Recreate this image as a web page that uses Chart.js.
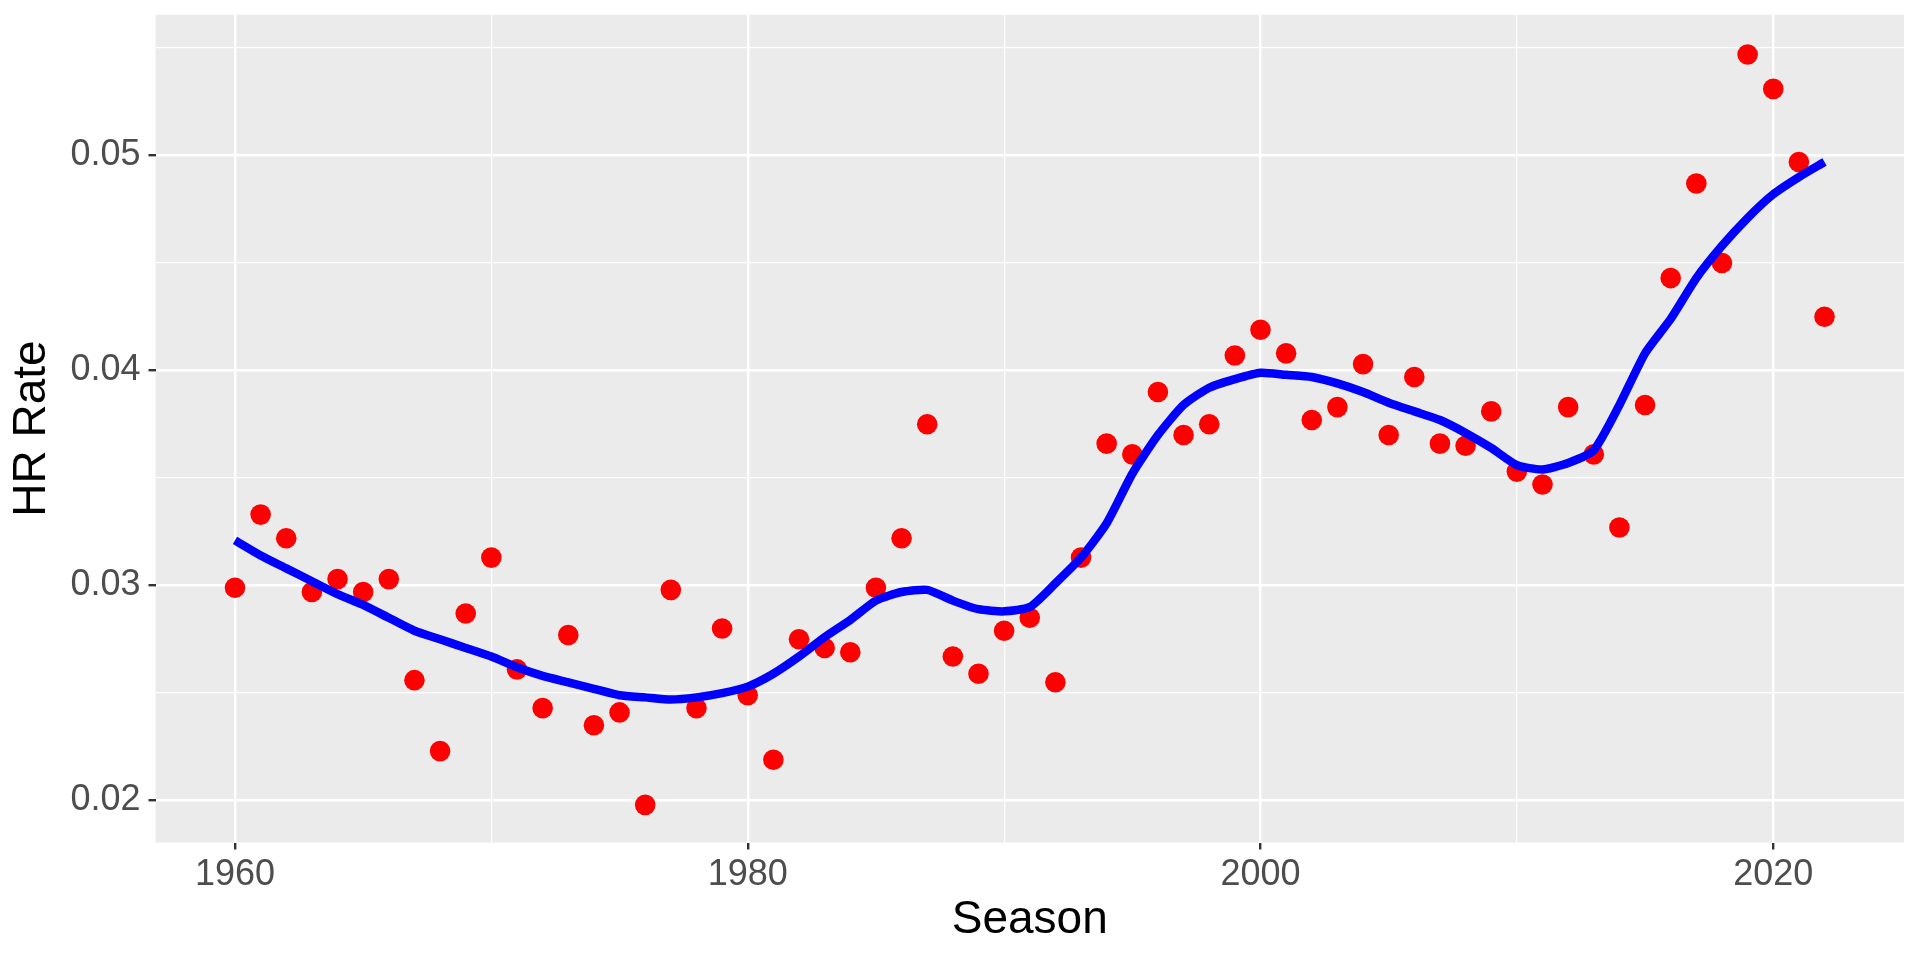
<!DOCTYPE html>
<html>
<head>
<meta charset="utf-8">
<script src="https://cdn.jsdelivr.net/npm/chart.js@4"></script>
<style>
  body { margin: 0; background: #fff; }
  #wrap { width: 1920px; height: 960px; }
</style>
</head>
<body>
<div id="wrap"><canvas id="myChart"></canvas></div>
<script>
// seasons and observed HR rate (red dots)
const seasons = [1960, 1961, 1962, 1963, 1964, 1965, 1966, 1967, 1968, 1969,
                 1970, 1971, 1972, 1973, 1974, 1975, 1976, 1977, 1978, 1979,
                 1980, 1981, 1982, 1983, 1984, 1985, 1986, 1987, 1988, 1989,
                 1990, 1991, 1992, 1993, 1994, 1995, 1996, 1997, 1998, 1999,
                 2000, 2001, 2002, 2003, 2004, 2005, 2006, 2007, 2008, 2009,
                 2010, 2011, 2012, 2013, 2014, 2015, 2016, 2017, 2018, 2019,
                 2020, 2021, 2022];
const hrRate = [0.0299, 0.0333, 0.0322, 0.0297, 0.0303, 0.0297, 0.0303, 0.0256, 0.0223, 0.0287,
                0.0313, 0.0261, 0.0243, 0.0277, 0.0235, 0.0241, 0.0198, 0.0298, 0.0243, 0.0280,
                0.0249, 0.0219, 0.0275, 0.0271, 0.0269, 0.0299, 0.0322, 0.0375, 0.0267, 0.0259,
                0.0279, 0.0285, 0.0255, 0.0313, 0.0366, 0.0361, 0.0390, 0.0370, 0.0375, 0.0407,
                0.0419, 0.0408, 0.0377, 0.0383, 0.0403, 0.0370, 0.0397, 0.0366, 0.0365, 0.0381,
                0.0353, 0.0347, 0.0383, 0.0361, 0.0327, 0.0384, 0.0443, 0.0487, 0.0450, 0.0547,
                0.0531, 0.0497, 0.0425];
// loess smoother (blue line), read at each season
const smoothRate = [0.0321, 0.0314, 0.0308, 0.0302, 0.0296, 0.0291, 0.0285, 0.0279, 0.0275, 0.0271,
                    0.0267, 0.0262, 0.0258, 0.0255, 0.0252, 0.0249, 0.0248, 0.0247, 0.0248, 0.0250,
                    0.0253, 0.0259, 0.0267, 0.0276, 0.0284, 0.0293, 0.0297, 0.0298, 0.0293, 0.0289,
                    0.0288, 0.0290, 0.0301, 0.0313, 0.0329, 0.0352, 0.0370, 0.0384, 0.0392, 0.0396,
                    0.0399, 0.0398, 0.0397, 0.0394, 0.0390, 0.0385, 0.0381, 0.0377, 0.0371, 0.0364,
                    0.0356, 0.0354, 0.0357, 0.0363, 0.0384, 0.0408, 0.0424, 0.0443, 0.0458, 0.0471,
                    0.0482, 0.0490, 0.0497];

// axis ticks (major get labels, minor only a thin grid line)
const xMajor = [1960, 1980, 2000, 2020];
const xMinor = [1970, 1990, 2010];
const yMajor = [0.02, 0.03, 0.04, 0.05];
const yMinor = [0.025, 0.035, 0.045, 0.055];
const yLabels = ['0.02', '0.03', '0.04', '0.05'];

const isIn = (list, v) => list.some(t => Math.abs(t - v) < 1e-7);

// grey ggplot-style panel behind the grid
const panelBg = {
    id: 'panelBg',
    beforeDraw(chart) {
        const a = chart.chartArea;
        const c = chart.ctx;
        c.save();
        c.fillStyle = '#EBEBEB';
        c.fillRect(a.left, a.top, a.right - a.left, a.bottom - a.top);
        c.restore();
    }
};

const gridStyle = (major) => ({
    color: '#FFFFFF',
    lineWidth: ctx => (isIn(major, ctx.tick.value) ? 2.4 : 1.2),
    tickColor: ctx => (isIn(major, ctx.tick.value) ? '#333333' : 'rgba(0,0,0,0)'),
    tickWidth: 2.4,
    tickLength: 7,
    drawTicks: true
});

const ctx = document.getElementById('myChart').getContext('2d');
const myChart = new Chart(ctx, {
    type: 'scatter',
    data: {
        datasets: [{
            type: 'line',
            label: 'loess',
            data: seasons.map((s, i) => ({ x: s, y: smoothRate[i] })),
            borderColor: '#0000FF',
            borderWidth: 8.5,
            pointRadius: 0,
            tension: 0.2,
            fill: false,
            order: 0
        }, {
            label: 'HR Rate',
            data: seasons.map((s, i) => ({ x: s, y: hrRate[i] })),
            backgroundColor: '#FF0000',
            borderWidth: 0,
            pointRadius: 10.3,
            order: 1
        }]
    },
    options: {
        responsive: true,
        maintainAspectRatio: false,
        animation: false,
        layout: { padding: { top: 14.7, right: 16, left: 0, bottom: 0 } },
        plugins: { legend: { display: false }, tooltip: { enabled: false } },
        scales: {
            x: {
                type: 'linear',
                min: 1956.9,
                max: 2025.1,
                afterFit: s => { s.height = 117.5; },
                afterBuildTicks: s => { s.ticks = xMajor.concat(xMinor).sort().map(v => ({ value: v })); },
                grid: gridStyle(xMajor),
                border: { display: false },
                ticks: {
                    autoSkip: false,
                    maxRotation: 0,
                    padding: 4,
                    color: '#4D4D4D',
                    font: { family: 'Liberation Sans', size: 36 },
                    callback: v => (isIn(xMajor, v) ? String(v) : '')
                },
                title: {
                    display: true,
                    text: 'Season',
                    color: '#000000',
                    font: { family: 'Liberation Sans', size: 46 },
                    padding: { top: 0, bottom: 12 }
                }
            },
            y: {
                min: 0.01805,
                max: 0.05655,
                afterFit: s => { s.width = 155.5; s.paddingTop = 0; s.paddingBottom = 0; },
                afterBuildTicks: s => { s.ticks = yMajor.concat(yMinor).sort().map(v => ({ value: v })); },
                grid: gridStyle(yMajor),
                border: { display: false },
                ticks: {
                    padding: 8,
                    color: '#4D4D4D',
                    font: { family: 'Liberation Sans', size: 36 },
                    callback: v => {
                        const i = yMajor.findIndex(t => Math.abs(t - v) < 1e-7);
                        return i >= 0 ? yLabels[i] : '';
                    }
                },
                title: {
                    display: true,
                    text: 'HR Rate',
                    color: '#000000',
                    font: { family: 'Liberation Sans', size: 46 },
                    padding: { top: 5, bottom: 0 }
                }
            }
        }
    },
    plugins: [panelBg]
});
</script>
</body>
</html>
